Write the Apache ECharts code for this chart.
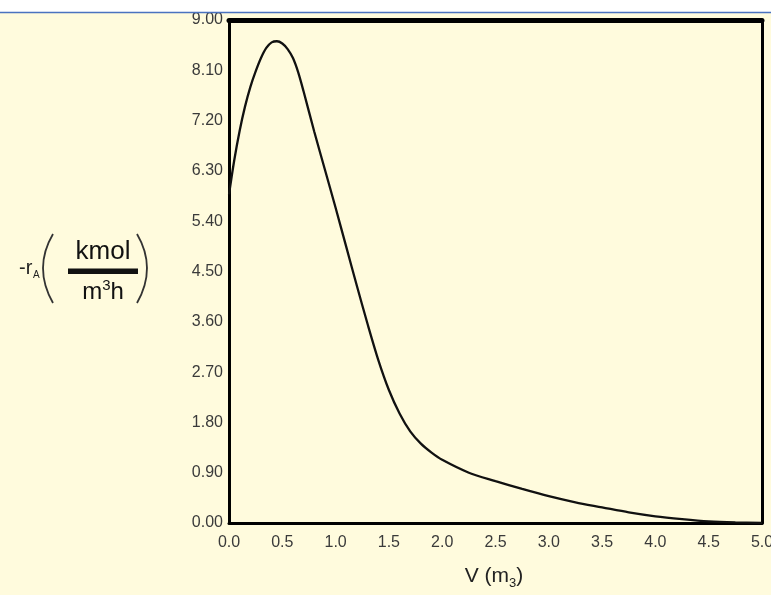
<!DOCTYPE html>
<html>
<head>
<meta charset="utf-8">
<script src="https://cdn.jsdelivr.net/npm/echarts@6/dist/echarts.min.js"></script>
<style>
html,body{margin:0;padding:0;background:#FFFBDD;}
#chart{width:771px;height:595px;}
</style>
</head>
<body>
<div id="chart"></div>
<script>
// Data
const volumes = [0, 0.05, 0.1, 0.15, 0.2, 0.25, 0.3, 0.35, 0.4, 0.45, 0.5, 0.55, 0.6, 0.65, 0.7, 0.8, 0.9, 1.0, 1.1, 1.2, 1.3, 1.4, 1.5, 1.6, 1.7, 1.8, 1.9, 2.0, 2.25, 2.5, 2.75, 3.0, 3.25, 3.5, 3.75, 4.0, 4.25, 4.5, 4.75, 5.0];
const rates   = [5.88, 6.50, 7.02, 7.45, 7.80, 8.08, 8.32, 8.50, 8.60, 8.62, 8.58, 8.48, 8.32, 8.06, 7.72, 7.00, 6.32, 5.64, 4.94, 4.24, 3.56, 2.92, 2.38, 1.96, 1.64, 1.42, 1.26, 1.13, 0.90, 0.75, 0.61, 0.48, 0.37, 0.28, 0.19, 0.12, 0.07, 0.03, 0.01, 0.0];
const xTickLabels = ['0.0','0.5','1.0','1.5','2.0','2.5','3.0','3.5','4.0','4.5','5.0'];
const yTickLabels = ['0.00','0.90','1.80','2.70','3.60','4.50','5.40','6.30','7.20','8.10','9.00'];

const chart = echarts.init(document.getElementById('chart'), null, {renderer: 'canvas'});
const labelColor = '#3a3a3a';
const font = 'Liberation Sans, Arial';
const option = {
  backgroundColor: '#FFFBDD',
  animation: false,
  grid: {left: 229, right: 9, top: 20, bottom: 72, show: false, containLabel: false, outerBoundsMode: 'none'},
  xAxis: [{
    type: 'value', min: 0, max: 5, interval: 0.5,
    axisLine: {show: true, onZero: false, lineStyle: {color: '#000', width: 3}},
    axisTick: {show: false}, splitLine: {show: false},
    axisLabel: {color: labelColor, fontSize: 16, fontFamily: font, margin: 12,
      formatter: (v) => xTickLabels[Math.round(v / 0.5)] || ''}
  }, {
    type: 'value', min: 0, max: 5, position: 'top',
    axisLine: {show: true, onZero: false, lineStyle: {color: '#000', width: 5}},
    axisTick: {show: false}, splitLine: {show: false}, axisLabel: {show: false}
  }],
  yAxis: [{
    type: 'value', min: 0, max: 9, interval: 0.9,
    axisLine: {show: true, onZero: false, lineStyle: {color: '#000', width: 3}},
    axisTick: {show: false}, splitLine: {show: false},
    axisLabel: {color: labelColor, fontSize: 16, fontFamily: font, margin: 6,
      padding: [0, 0, 5, 0],
      formatter: (v) => yTickLabels[Math.round(v / 0.9)] || ''}
  }, {
    type: 'value', min: 0, max: 9, position: 'right',
    axisLine: {show: true, onZero: false, lineStyle: {color: '#000', width: 3}},
    axisTick: {show: false}, splitLine: {show: false}, axisLabel: {show: false}
  }],
  series: [{
    type: 'line',
    data: volumes.map((v, i) => [v, rates[i]]),
    smooth: 0.3,
    showSymbol: false,
    lineStyle: {color: '#111', width: 2.3},
    z: 5
  }],
  graphic: [
    {type: 'rect', left: 0, top: 0, shape: {width: 771, height: 12}, style: {fill: '#ffffff'}, z: 10},
    {type: 'line', shape: {x1: 0, y1: 12.5, x2: 771, y2: 12.5}, style: {stroke: '#4a72bf', lineWidth: 1.5}, z: 11},
    // x-axis title: V (m_3)
    {type: 'text', x: 494, y: 566, style: {
      text: '{a|V (m}{s|3}{a|)}', align: 'center', fill: '#222',
      rich: {
        a: {fontSize: 21, fill: '#222', fontFamily: font, lineHeight: 24, verticalAlign: 'top'},
        s: {fontSize: 13, fill: '#222', fontFamily: font, lineHeight: 12, verticalAlign: 'bottom'}
      }}, z: 10},
    // y-axis title: -r_A (kmol / m^3 h)
    {type: 'text', x: 19, y: 258, style: {text: '-r', fontSize: 20, fill: '#222', fontFamily: font}, z: 10},
    {type: 'text', x: 33, y: 270, style: {text: 'A', fontSize: 10, fill: '#222', fontFamily: font}, z: 10},
    {type: 'bezierCurve', shape: {x1: 53, y1: 234, x2: 53, y2: 303, cpx1: 33, cpy1: 268}, style: {stroke: '#333', lineWidth: 1.8, fill: null}, z: 10},
    {type: 'bezierCurve', shape: {x1: 137, y1: 234, x2: 137, y2: 303, cpx1: 157, cpy1: 268}, style: {stroke: '#333', lineWidth: 1.8, fill: null}, z: 10},
    {type: 'text', x: 103, y: 239, style: {text: 'kmol', fontSize: 26, fill: '#111', fontFamily: font, align: 'center'}, z: 10},
    {type: 'rect', shape: {x: 68, y: 268.5, width: 70, height: 5.5}, style: {fill: '#111'}, z: 10},
    {type: 'text', x: 103, y: 278, style: {
      text: '{m|m}{s|3}{m|h}', align: 'center', fill: '#111',
      rich: {
        m: {fontSize: 24, fill: '#111', fontFamily: font, lineHeight: 26, verticalAlign: 'bottom'},
        s: {fontSize: 15, fill: '#111', fontFamily: font, lineHeight: 15, verticalAlign: 'top'}
      }}, z: 10}
  ]
};
chart.setOption(option);
</script>
</body>
</html>
